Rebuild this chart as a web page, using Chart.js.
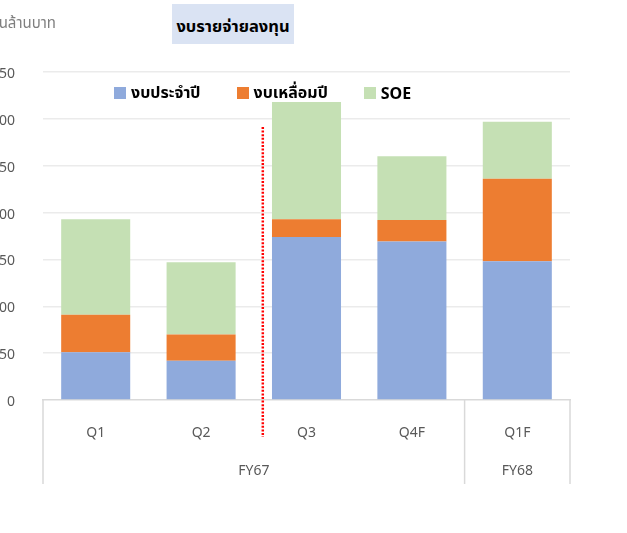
<!DOCTYPE html>
<html>
<head>
<meta charset="utf-8">
<script src="https://cdn.jsdelivr.net/npm/chart.js@4/dist/chart.umd.min.js"></script>
<style>
body{margin:0;width:627px;height:533px;overflow:hidden;background:#fff;position:relative;font-family:"Noto Sans","Noto Sans Thai",Tahoma,sans-serif}
#wrap{position:absolute;left:-20px;top:0;width:647px;height:533px}
#unit{position:absolute;left:-140px;top:12px;width:196px;text-align:right;color:#7f7f7f;font-size:15px}
#title{position:absolute;left:172px;top:4px;width:122px;height:40px;background:#dae3f3;color:#000;font-weight:bold;font-size:16.5px;text-align:center;line-height:44px;white-space:nowrap}
#legend{position:absolute;left:114px;top:81px;display:flex;font-weight:bold;font-size:16px;color:#000}
#legend span.it{display:flex;align-items:center;margin-right:36px}
#legend i{display:inline-block;width:12px;height:12px;margin-right:5px}
</style>
</head>
<body>
<div id="wrap"><canvas id="c" width="647" height="533"></canvas></div>
<div id="unit">หน่วย: พันล้านบาท</div>
<div id="title">งบรายจ่ายลงทุน</div>
<div id="legend"></div>
<script>
const quarters=['Q1','Q2','Q3','Q4F','Q1F'];
const fyLabels=['FY67','FY68'];
const fySpans=[4,1];
const annual=[51,42,174,169,148];
const carryOver=[40,28,19,23,88];
const soe=[102,77,125,68,61];
const yTicks=[0,50,100,150,200,250,300,350];

const grey='#595959';
const fam='"Noto Sans","Noto Sans Thai",Tahoma,sans-serif';

const groupAxis={
 id:'groupAxis',
 afterDraw(chart){
  const ctx=chart.ctx,x=chart.scales.x,a=chart.chartArea;
  const w=(a.right-a.left)/quarters.length;
  ctx.save();
  // red dotted divider between Q2 and Q3
  ctx.strokeStyle='#ff0000';ctx.lineWidth=2.5;ctx.setLineDash([2,1.6]);
  const dx=x.getPixelForValue(1.5)+9;
  ctx.beginPath();ctx.moveTo(dx,127);ctx.lineTo(dx,437);ctx.stroke();
  ctx.setLineDash([]);
  ctx.strokeStyle='#d9d9d9';ctx.lineWidth=1.5;
  let idx=0;
  const edges=[a.left];
  fySpans.forEach(s=>{idx+=s;edges.push(a.left+idx*w)});
  edges.forEach(e=>{ctx.beginPath();ctx.moveTo(e,a.bottom);ctx.lineTo(e,484);ctx.stroke()});
  ctx.fillStyle=grey;ctx.font='14px '+fam;
  ctx.textAlign='center';ctx.textBaseline='middle';
  fyLabels.forEach((l,i)=>ctx.fillText(l,(edges[i]+edges[i+1])/2,471));
  ctx.restore();
 }
};

const chart=new Chart(document.getElementById('c'),{
 type:'bar',
 data:{labels:quarters,datasets:[
  {label:'งบประจำปี',data:annual,backgroundColor:'#8faadc'},
  {label:'งบเหลื่อมปี',data:carryOver,backgroundColor:'#ed7d31'},
  {label:'SOE',data:soe,backgroundColor:'#c5e0b4'}
 ]},
 options:{
  responsive:false,animation:false,
  layout:{padding:{top:72,right:57,left:0,bottom:0}},
  datasets:{bar:{categoryPercentage:1,barPercentage:0.655,borderWidth:0}},
  plugins:{legend:{display:false},tooltip:{enabled:false}},
  scales:{
   x:{stacked:true,
    grid:{display:false,drawTicks:false},
    border:{display:true,color:'#d9d9d9',width:1.5},
    ticks:{color:grey,font:{size:14,family:fam},padding:25,maxRotation:0},
    afterFit:s=>{s.height=133}},
   y:{stacked:true,min:0,max:350,
    afterBuildTicks:s=>{s.ticks=yTicks.map(v=>({value:v}))},
    grid:{color:ctx=>ctx.tick.value===0?'rgba(0,0,0,0)':'#ebebeb',lineWidth:1.5,drawTicks:false,tickLength:0},
    border:{display:false},
    ticks:{color:grey,font:{size:14,family:fam},padding:28,labelOffset:2},
    afterFit:s=>{s.width=63}}
  }
 },
 plugins:[groupAxis]
});

document.getElementById('legend').innerHTML=chart.data.datasets.map(d=>`<span class="it"><i style="background:${d.backgroundColor}"></i>${d.label}</span>`).join('');
</script>
</body>
</html>
